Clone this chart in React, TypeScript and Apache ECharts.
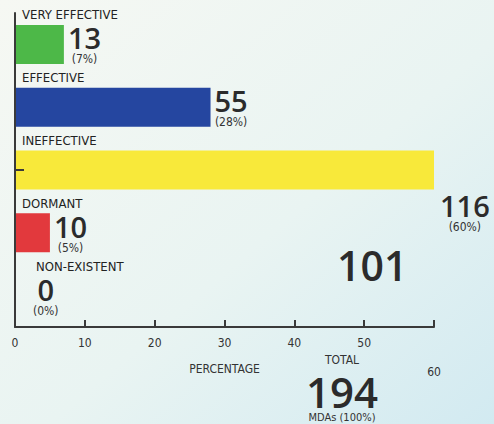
import React, { useEffect, useRef } from "react";
import * as echarts from "echarts";

const categories = ["VERY EFFECTIVE", "EFFECTIVE", "INEFFECTIVE", "DORMANT", "NON-EXISTENT"];
const counts = [13, 55, 116, 10, 0];
const percents = [7, 28, 60, 5, 0];
const barColors = ["#4db848", "#2546a0", "#f8e93a", "#e2393d", "#888888"];
const xTicks = [0, 10, 20, 30, 40, 50, 60];
const totalCount = 194;
const totalPercent = 100;
const sideNumber = 101;

const NARROW = '"Liberation Sans Narrow", "DejaVu Sans Condensed", "Noto Sans", sans-serif';
const BOLD = '"Open Sans", "Noto Sans", sans-serif';

export default function App() {
  const ref = useRef<HTMLDivElement>(null);
  useEffect(() => {
    if (!ref.current) return;
    const chart = echarts.init(ref.current, null, { renderer: "svg" });
    const data = percents.map((p, i) => {
      const item: any = { value: p, itemStyle: { color: barColors[i] } };
      if (i === 2) item.label = { offset: [2, 42] };
      if (i === 4) item.label = { offset: [14, 0] };
      return item;
    });
    chart.setOption({
      animation: false,
      backgroundColor: {
        type: "linear", x: 0, y: 0, x2: 1, y2: 1,
        colorStops: [
          { offset: 0, color: "#f6f8f3" },
          { offset: 0.55, color: "#e9f4f2" },
          { offset: 1, color: "#d2eaf1" },
        ],
      },
      grid: { left: 15, right: 60, top: 13, bottom: 97, containLabel: false },
      xAxis: {
        type: "value",
        min: xTicks[0],
        max: xTicks[xTicks.length - 1],
        interval: 10,
        name: "PERCENTAGE",
        nameLocation: "middle",
        nameGap: 36,
        nameMoveOverlap: false,
        nameTextStyle: { fontFamily: NARROW, fontSize: 12, color: "#333" },
        axisLine: { show: true, lineStyle: { color: "#3a3a3a", width: 2 } },
        axisTick: { show: true, inside: true, length: 7, lineStyle: { color: "#3a3a3a", width: 2 } },
        splitLine: { show: false },
        axisLabel: {
          margin: 10,
          fontFamily: NARROW,
          fontSize: 12,
          color: "#333",
          formatter: (v: number) => (v === 60 ? "{lo|60}" : String(v)),
          rich: { lo: { padding: [29, 0, 0, 0], fontFamily: NARROW, fontSize: 12, color: "#333" } },
        },
      },
      yAxis: {
        type: "category",
        inverse: true,
        data: categories,
        z: 5,
        axisLine: { show: true, lineStyle: { color: "#3a3a3a", width: 2 } },
        axisTick: {
          show: true,
          inside: true,
          alignWithLabel: true,
          length: 9,
          interval: (index: number) => index === 2,
          lineStyle: { color: "#3a3a3a", width: 2 },
        },
        axisLabel: {
          inside: true,
          margin: 7,
          verticalAlign: "bottom",
          padding: [0, 0, 23, 0],
          fontFamily: NARROW,
          fontSize: 13,
          color: "#222",
          formatter: (v: string, i: number) => (i === 4 ? `{ne|${v}}` : `{c|${v}}`),
          rich: {
            c: { fontFamily: NARROW, fontSize: 13, color: "#222" },
            ne: { fontFamily: NARROW, fontSize: 13, color: "#222", padding: [0, 0, 0, 14] },
          },
        },
      },
      series: [
        {
          type: "bar",
          data,
          barWidth: 39,
          z: 2,
          label: {
            show: true,
            position: "right",
            distance: 4,
            formatter: (p: any) => `{n|${counts[p.dataIndex]}}\n{p|(${percents[p.dataIndex]}%)}`,
            rich: {
              n: { fontFamily: BOLD, fontWeight: 600, fontSize: 29, lineHeight: 30, color: "#2b2b2b", align: "center" },
              p: { fontFamily: NARROW, fontSize: 12, lineHeight: 13, color: "#333", align: "center" },
            },
          },
        },
      ],
      graphic: [
        {
          type: "text", left: 337, top: 244,
          style: { text: String(sideNumber), fontFamily: BOLD, fontWeight: 600, fontSize: 41, fill: "#2b2b2b" },
        },
        {
          type: "text", x: 342, y: 360,
          style: { text: "TOTAL", fontFamily: NARROW, fontSize: 12, fill: "#333", align: "center", verticalAlign: "middle" },
        },
        {
          type: "text", x: 342, y: 391,
          style: { text: String(totalCount), fontFamily: BOLD, fontWeight: 600, fontSize: 42, lineHeight: 34, fill: "#2b2b2b", align: "center", verticalAlign: "middle" },
        },
        {
          type: "text", x: 342, y: 417,
          style: { text: `MDAs (${totalPercent}%)`, fontFamily: NARROW, fontSize: 11, fill: "#333", align: "center", verticalAlign: "middle" },
        },
      ],
    });
    return () => chart.dispose();
  }, []);
  return <div ref={ref} style={{ position: "fixed", left: 0, top: 0, width: 494, height: 424 }} />;
}
